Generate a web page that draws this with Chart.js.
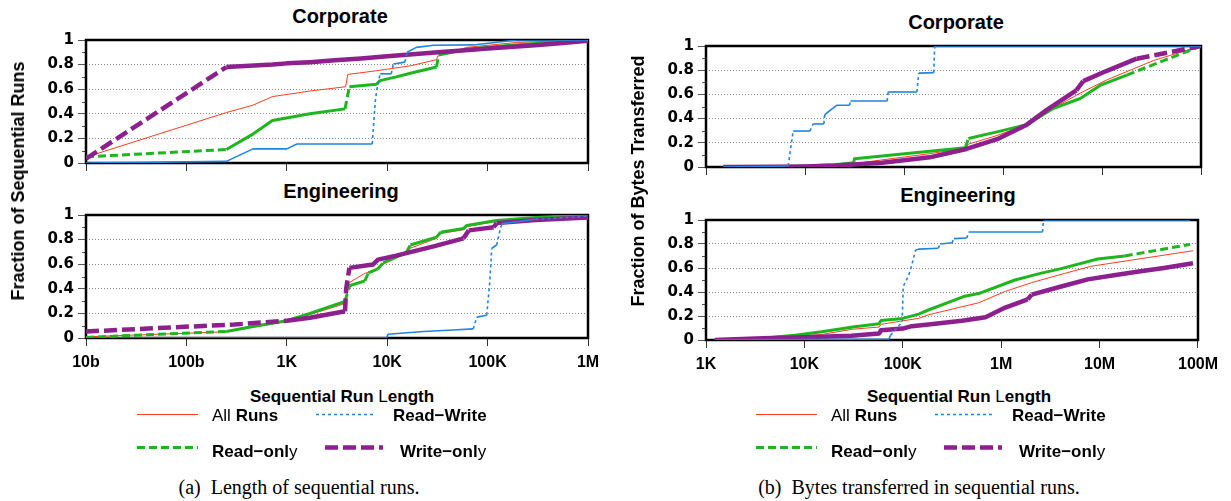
<!DOCTYPE html>
<html>
<head>
<meta charset="utf-8">
<script src="https://cdn.jsdelivr.net/npm/chart.js"></script>
<style>
  body { margin: 0; background: #fff; width: 1231px; height: 501px; position: relative; overflow: hidden;
         font-family: "Liberation Sans", Arial, sans-serif; color: #000; }
  canvas { position: absolute; }
  .t { position: absolute; white-space: nowrap; font-weight: bold; line-height: 1; }
  .c { transform: translateX(-50%); }
  .n { font-weight: normal; }
  .title { font-size: 20px; }
  .ytitle { font-size: 18px; transform: translate(-50%, -50%) rotate(-90deg); }
  .xtitle { font-size: 17px; }
  .leg { font-size: 17px; }
  .cap { font-family: "Liberation Serif", "Times New Roman", serif; font-weight: normal; font-size: 20px; }
  svg { position: absolute; left: 0; top: 0; }
</style>
</head>
<body>
<canvas id="corpRun"></canvas>
<canvas id="engRun"></canvas>
<canvas id="corpByte"></canvas>
<canvas id="engByte"></canvas>

<div class="t c title" style="left:340px;top:6px">Corporate</div>
<div class="t c title" style="left:341px;top:181px">Engineering</div>
<div class="t c title" style="left:956px;top:12px">Corporate</div>
<div class="t c title" style="left:958px;top:185px">Engineering</div>

<div class="t ytitle" style="left:18px;top:181px">Fraction of Sequential Runs</div>
<div class="t ytitle" style="left:638px;top:181px">Fraction of Bytes Transferred</div>

<div class="t c xtitle" style="left:342px;top:388px">Sequential Run <span class="n">L</span>ength</div>
<div class="t c xtitle" style="left:959px;top:388px">Sequential Run <span class="n">L</span>ength</div>

<div class="t c cap" style="left:299px;top:477px">(a)&nbsp; Length of sequential runs.</div>
<div class="t c cap" style="left:919px;top:477px">(b)&nbsp; Bytes transferred in sequential runs.</div>

<svg id="legendLines" width="1231" height="501"></svg>

<script>
// axis ticks
const runTickValues = [10, 100, 1000, 10000, 100000, 1000000];
const runTickLabels = ['10b', '100b', '1K', '10K', '100K', '1M'];
const byteTickValues = [1000, 10000, 100000, 1000000, 10000000, 100000000];
const byteTickLabels = ['1K', '10K', '100K', '1M', '10M', '100M'];
const fracTickValues = [0, 0.2, 0.4, 0.6, 0.8, 1];
const fracTickLabels = ['0', '0.2', '0.4', '0.6', '0.8', '1'];
const fracMinorTicks = [0.1, 0.3, 0.5, 0.7, 0.9];

// series order: All Runs, Read-Write, Read-only, Write-only
const seriesNames = ['All Runs', 'Read\u2212Write', 'Read\u2212only', 'Write\u2212only'];

// (a) length of sequential runs, Corporate
const corpRunAll = [[10,.048],[250,.41],[460,.47],[720,.54],[1700,.585],[3850,.62],[4050,.72],[7800,.75],[17000,.79],[31000,.84],[32000,.87],[62000,.94],[195000,.98],[1000000,1]];
const corpRunRW = [[10,0],[250,.013],[460,.115],[1000,.115],[1260,.155],[7100,.155],[7600,.50],[7900,.60],[8500,.725],[11000,.725],[11500,.805],[15000,.82],[15800,.90],[19500,.94],[29000,.957],[72000,.96],[195000,1],[1000000,1]];
const corpRunRO = [[10,.05],[250,.11],[460,.235],[720,.345],[1700,.40],[3800,.44],[4200,.62],[7800,.64],[8500,.67],[12300,.70],[17000,.73],[31000,.78],[32500,.877],[62000,.925],[160000,.955],[417000,.98],[1000000,1]];
const corpRunWO = [[10,.035],[250,.78],[720,.80],[1000,.81],[1700,.82],[3000,.835],[5500,.85],[10000,.868],[18000,.885],[32000,.90],[56000,.915],[100000,.93],[180000,.945],[320000,.96],[560000,.975],[1000000,.995]];

// (a) Engineering
const engRunAll = [[10,.01],[250,.05],[1000,.135],[1700,.19],[3800,.28],[4200,.45],[5800,.52],[8000,.565],[9100,.60],[15500,.69],[17000,.73],[31000,.81],[34000,.85],[57500,.88],[62000,.905],[123000,.95],[300000,.975],[1000000,.995]];
const engRunRW = [[10,0],[9800,0],[10200,.03],[23000,.053],[45000,.065],[72000,.074],[78000,.17],[98000,.185],[105000,.45],[110000,.73],[123000,.756],[135000,.90],[140000,.93],[300000,.965],[1000000,.99]];
const engRunRO = [[10,.005],[250,.053],[460,.093],[1000,.14],[1700,.20],[3800,.297],[4200,.425],[6000,.464],[6500,.53],[8000,.56],[9100,.61],[15500,.695],[17000,.756],[31000,.82],[34000,.86],[57500,.89],[62000,.915],[123000,.955],[300000,.98],[1000000,1]];
const engRunWO = [[10,.053],[300,.11],[1000,.14],[1700,.164],[3800,.217],[3900,.40],[4200,.57],[7200,.597],[8100,.637],[12300,.67],[29000,.745],[57500,.81],[65000,.875],[115000,.90],[123000,.934],[300000,.96],[1000000,.98]];

// (b) bytes transferred, Corporate
const corpByteAll = [[1500,0],[10000,.006],[31000,.028],[182000,.11],[410000,.155],[450000,.19],[871000,.26],[1740000,.35],[2750000,.455],[6000000,.61],[11200000,.72],[33100000,.88],[100000000,1]];
const corpByteRW = [[1500,0],[6760,.008],[7590,.297],[11200,.297],[12100,.356],[15500,.356],[15800,.43],[17400,.46],[20900,.51],[28200,.51],[28800,.545],[67600,.545],[69200,.62],[135000,.62],[141000,.776],[200000,.78],[204000,1],[100000000,1]];
const corpByteRO = [[1500,0],[5000,.003],[10000,.008],[20000,.018],[31000,.035],[31600,.068],[67600,.095],[182000,.13],[417000,.16],[447000,.235],[871000,.29],[1740000,.35],[3240000,.485],[6030000,.566],[9550000,.674],[17800000,.76],[100000000,1]];
const corpByteWO = [[1500,0],[5000,.002],[10000,.005],[20000,.012],[31000,.02],[60000,.035],[100000,.055],[182000,.08],[427000,.149],[871000,.23],[1740000,.35],[2750000,.47],[5500000,.634],[6460000,.71],[11200000,.795],[22400000,.895],[100000000,1]];

// (b) Engineering
const engByteAll = [[1230,0],[3800,.01],[15000,.046],[31000,.09],[57500,.108],[60000,.13],[100000,.16],[145000,.18],[182000,.21],[589000,.31],[1100000,.405],[2040000,.478],[4370000,.554],[8130000,.614],[89100000,.744]];
const engByteRW = [[1230,0],[72400,.008],[75000,.04],[98500,.15],[101000,.446],[115000,.54],[123000,.62],[135000,.75],[145000,.757],[229000,.765],[240000,.80],[316000,.81],[331000,.845],[447000,.85],[468000,.90],[2630000,.90],[2690000,1],[83000000,1]];
const engByteRO = [[1230,0],[3800,.014],[8000,.04],[15000,.068],[31000,.108],[57500,.135],[60000,.162],[100000,.18],[145000,.216],[182000,.25],[427000,.365],[589000,.387],[1380000,.50],[2500000,.555],[4070000,.595],[9550000,.675],[18000000,.70],[83000000,.797]];
const engByteWO = [[1230,0],[3800,.014],[10000,.022],[30000,.035],[57500,.054],[60000,.081],[100000,.095],[123000,.115],[182000,.13],[400000,.16],[692000,.19],[1100000,.27],[1860000,.338],[2040000,.378],[4070000,.446],[7590000,.505],[14000000,.54],[25000000,.57],[45000000,.60],[89000000,.64]];

// styles
const seriesColors = ['#ff3d1f', '#2185de', '#1fb51f', '#8e1f8e'];
const seriesWidths = [1, 1.6, 3, 4.5];
const seriesDashes = [[], [3, 3], [8, 4], [13, 5]];
const drawOrder = [3, 0, 2, 1];
const xTickFont = { family: 'Liberation Sans', size: 16, weight: 'bold' };
const yTickFont = { family: 'DejaVu Sans', size: 15, weight: 'bold' };

// gnuplot look: long jumps come out dashed, dense parts look solid
function segDash(pattern) {
  return c => {
    if (!pattern.length) return [];
    const dx = Math.abs(c.p1.x - c.p0.x), dy = Math.abs(c.p1.y - c.p0.y);
    const steep = dy > dx && dy > 4;
    const long = Math.hypot(dx, dy) > 45 && dy > 3;
    return steep || long ? pattern : [];
  };
}

Chart.register({
  id: 'frame',
  beforeDatasetsDraw(chart) {
    const { ctx, chartArea: a } = chart;
    const y = chart.scales.y;
    ctx.save();
    ctx.strokeStyle = '#555';
    ctx.lineWidth = 1;
    fracMinorTicks.forEach(v => {
      const py = Math.round(y.getPixelForValue(v)) + 0.5;
      ctx.beginPath();
      ctx.moveTo(a.left - 4, py);
      ctx.lineTo(a.left, py);
      ctx.stroke();
    });
    ctx.strokeStyle = '#000';
    ctx.lineWidth = 2.5;
    ctx.strokeRect(a.left, a.top, a.right - a.left, a.bottom - a.top);
    ctx.restore();
  }
});

function makePanel(id, box, series, xTicks, xLabels, showLabels) {
  const cv = document.getElementById(id);
  cv.width = box.w; cv.height = box.h;
  cv.style.left = box.left + 'px'; cv.style.top = box.top + 'px';
  new Chart(cv, {
    type: 'line',
    data: {
      datasets: series.map((pts, i) => ({
        label: seriesNames[i],
        data: pts.map(p => ({ x: p[0], y: p[1] })),
        borderColor: seriesColors[i],
        borderWidth: seriesWidths[i],
        borderDash: [],
        segment: { borderDash: segDash(seriesDashes[i]) },
        borderJoinStyle: 'round',
        order: drawOrder[i],
        pointRadius: 0,
        tension: 0,
        fill: false
      }))
    },
    options: {
      responsive: false,
      animation: false,
      events: [],
      layout: { padding: { top: 10, right: 24, left: 0, bottom: 0 } },
      plugins: { legend: { display: false }, tooltip: { enabled: false } },
      scales: {
        x: {
          type: 'logarithmic',
          min: xTicks[0],
          max: xTicks[xTicks.length - 1],
          afterBuildTicks: s => { s.ticks = xTicks.map(v => ({ value: v })); },
          afterFit: s => { s.height = box.xh; },
          grid: { drawOnChartArea: false, drawTicks: true, tickLength: 8, tickColor: '#333', tickWidth: 1, tickBorderDash: [] },
          border: { display: false },
          ticks: {
            display: showLabels, autoSkip: false, maxRotation: 0, padding: 7,
            color: '#000', font: xTickFont,
            callback: (v, i) => xLabels[i]
          }
        },
        y: {
          min: 0,
          max: 1,
          afterBuildTicks: s => { s.ticks = fracTickValues.map(v => ({ value: v })); },
          afterFit: s => { s.width = 66; },
          grid: {
            color: c => (c.tick && c.tick.value > 0.01 && c.tick.value < 0.99) ? '#8a8a8a' : 'rgba(0,0,0,0)',
            lineWidth: 1, tickLength: 8, tickColor: '#555', tickWidth: 1, tickBorderDash: []
          },
          border: { display: false, dash: [1, 2] },
          ticks: { padding: 4, color: '#000', font: yTickFont, callback: (v, i) => fracTickLabels[i] }
        }
      }
    }
  });
}

makePanel('corpRun', { left: 20, top: 27, w: 592, h: 152, xh: 16 },
  [corpRunAll, corpRunRW, corpRunRO, corpRunWO], runTickValues, runTickLabels, false);
makePanel('engRun', { left: 20, top: 202, w: 592, h: 176, xh: 40 },
  [engRunAll, engRunRW, engRunRO, engRunWO], runTickValues, runTickLabels, true);
makePanel('corpByte', { left: 640, top: 33, w: 585, h: 150, xh: 16 },
  [corpByteAll, corpByteRW, corpByteRO, corpByteWO], byteTickValues, byteTickLabels, false);
makePanel('engByte', { left: 640, top: 207, w: 585, h: 173, xh: 40 },
  [engByteAll, engByteRW, engByteRO, engByteWO], byteTickValues, byteTickLabels, true);

// legends under each figure
const legendHtml = ['<span class="n">All</span> Runs', 'Read\u2212Write', 'Read\u2212onl<span class="n">y</span>', 'Write\u2212onl<span class="n">y</span>'];
const legendSlots = [
  { x1: 137, x2: 198, y: 414.5, tx: 212, ty: 407 },
  { x1: 316, x2: 375, y: 414.5, tx: 393, ty: 407 },
  { x1: 137, x2: 198, y: 447.5, tx: 212, ty: 443 },
  { x1: 325, x2: 383, y: 447.5, tx: 400, ty: 443 }
];
const legendOffsets = [0, 619];
const svg = document.getElementById('legendLines');
legendOffsets.forEach(off => {
  legendSlots.forEach((s, i) => {
    const ln = document.createElementNS('http://www.w3.org/2000/svg', 'line');
    ln.setAttribute('x1', s.x1 + off); ln.setAttribute('x2', s.x2 + off);
    ln.setAttribute('y1', s.y); ln.setAttribute('y2', s.y);
    ln.setAttribute('stroke', seriesColors[i]);
    ln.setAttribute('stroke-width', seriesWidths[i]);
    if (seriesDashes[i].length) ln.setAttribute('stroke-dasharray', seriesDashes[i].join(' '));
    svg.appendChild(ln);
    const d = document.createElement('div');
    d.className = 't leg';
    d.style.left = (s.tx + off) + 'px';
    d.style.top = s.ty + 'px';
    d.innerHTML = legendHtml[i];
    document.body.appendChild(d);
  });
});
</script>
</body>
</html>
